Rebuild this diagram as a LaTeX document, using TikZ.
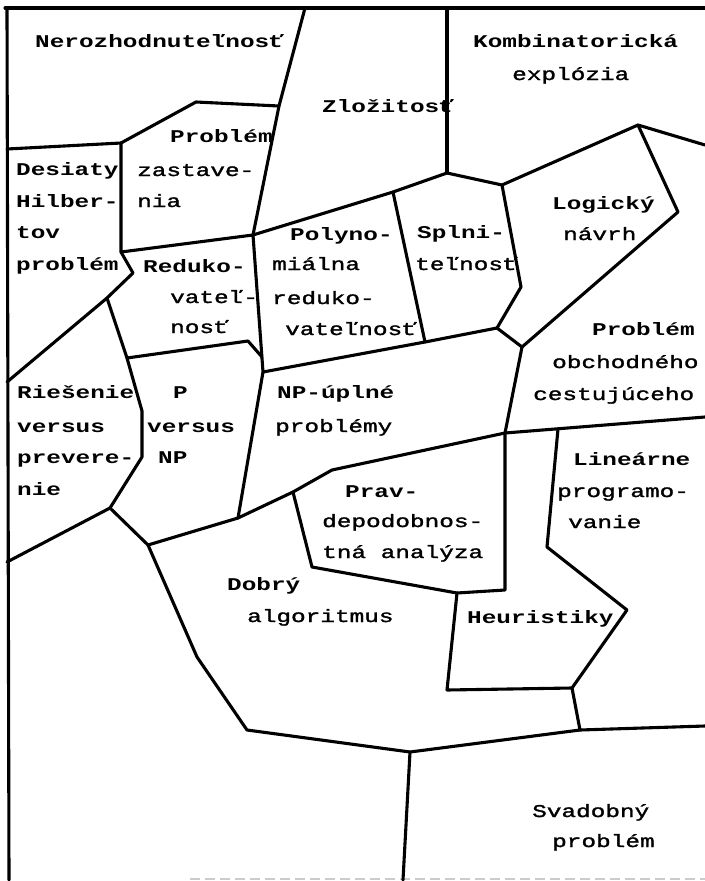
\documentclass[tikz,border=0pt]{standalone}
\usepackage{fontspec}
\setmainfont{Liberation Mono}[FakeStretch=1.36]
\newfontfamily\medfont{Liberation Mono}[FakeStretch=1.36, FakeBold=1.6]
\begin{document}
\begin{tikzpicture}[x=1bp,y=-1bp,
  edge/.style={line width=3.1bp, line join=round, line cap=round},
  lbl/.style={anchor=base west, inner sep=0pt, font=\medfont\fontsize{18}{31}\selectfont},
  blbl/.style={anchor=base west, inner sep=0pt, font=\fontsize{18}{31}\selectfont\bfseries}]
\useasboundingbox (0,0) rectangle (705,881);
% vertices
\coordinate (TL) at (7,8);   \coordinate (TR) at (705,8);
\coordinate (BL) at (9,880);
\coordinate (A) at (305,8);  \coordinate (B) at (279,106);
\coordinate (C) at (253,235); \coordinate (D) at (196,102);
\coordinate (E) at (121,143); \coordinate (Lw1) at (7,149);
\coordinate (F) at (121,252); \coordinate (G) at (133,273);
\coordinate (H) at (107,298); \coordinate (Lw2) at (7,382);
\coordinate (I) at (127,358); \coordinate (J) at (142,411);
\coordinate (K) at (142,457); \coordinate (L) at (110,508);
\coordinate (Lw3) at (7,562); \coordinate (M) at (148,545);
\coordinate (N) at (238,518); \coordinate (O) at (263,372);
\coordinate (P1) at (248,341); \coordinate (P2) at (262,357);
\coordinate (Q) at (393,192); \coordinate (R) at (447,173);
\coordinate (Rt) at (447,8);  \coordinate (S) at (502,185);
\coordinate (U) at (638,125); \coordinate (Rw1) at (705,145);
\coordinate (V) at (678,212); \coordinate (W) at (522,347);
\coordinate (X) at (521,287); \coordinate (Y) at (497,328);
\coordinate (Z) at (425,342); \coordinate (AA) at (505,433);
\coordinate (Rw2) at (705,417); \coordinate (BB) at (332,470);
\coordinate (CC) at (293,492); \coordinate (DD) at (312,567);
\coordinate (EE) at (457,593); \coordinate (FF) at (505,590);
\coordinate (GG) at (447,690); \coordinate (HH) at (572,688);
\coordinate (II) at (627,610); \coordinate (JJ) at (547,547);
\coordinate (KK) at (558,429); \coordinate (LL) at (580,730);
\coordinate (Rw3) at (705,726); \coordinate (MM) at (410,752);
\coordinate (Bm) at (403,880); \coordinate (NN) at (247,730);
\coordinate (OO) at (197,657);
\coordinate (G1) at (190,879); \coordinate (G2) at (705,879);
% frame
\draw[edge] (5,8) -- (TR);
\draw[edge] (TL) -- (BL);
\draw[gray!40, line width=1.2bp, dash pattern=on 10bp off 5bp] (G1) -- (G2);
% boundaries
\draw[edge] (A) -- (B) -- (C) -- (O) -- (N);
\draw[edge] (Lw1) -- (E) -- (D) -- (B);
\draw[edge] (E) -- (F) -- (C);
\draw[edge] (F) -- (G) -- (H) -- (Lw2);
\draw[edge] (H) -- (I) -- (J) -- (K) -- (L) -- (Lw3);
\draw[edge] (L) -- (M) -- (N);
\draw[edge] (I) -- (P1) -- (P2);
\draw[edge] (C) -- (Q) -- (R) -- (S) -- (U) -- (Rw1);
\draw[edge] (Rt) -- (R);
\draw[edge] (U) -- (V) -- (W);
\draw[edge] (Q) -- (Z);
\draw[edge] (S) -- (X) -- (Y) -- (W);
\draw[edge] (O) -- (Z) -- (Y);
\draw[edge] (W) -- (AA) -- (Rw2);
\draw[edge] (AA) -- (BB) -- (CC) -- (N);
\draw[edge] (CC) -- (DD) -- (EE);
\draw[edge] (AA) -- (FF) -- (EE);
\draw[edge] (EE) -- (GG) -- (HH) -- (II) -- (JJ) -- (KK);
\draw[edge] (HH) -- (LL) -- (Rw3);
\draw[edge] (LL) -- (MM) -- (Bm);
\draw[edge] (MM) -- (NN) -- (OO) -- (M);
% labels
\node[blbl] (t1) at (35,47) {Nerozhodnuteľnosť};
\node[blbl] (t2) at (322,112) {Zložitosť};
\node[blbl] (t3) at (473,47) {Kombinatorická};
\node[lbl] (t4) at (512,80) {explózia};
\node[blbl] (t5) at (170,142) {Problém};
\node[lbl] (t6) at (137,176) {zastave-};
\node[lbl] (t7) at (137,207) {nia};
\node[blbl] (t8) at (16,175) {Desiaty};
\node[blbl] (t9) at (16,207) {Hilber-};
\node[blbl] (t10) at (16,238) {tov};
\node[blbl] (t11) at (16,270) {problém};
\node[blbl] (t12) at (143,272) {Reduko-};
\node[lbl] (t13) at (170,303) {vateľ-};
\node[lbl] (t14) at (170,333) {nosť};
\node[blbl] (t15) at (290,240) {Polyno-};
\node[lbl] (t16) at (272,270) {miálna};
\node[lbl] (t17) at (272,304) {reduko-};
\node[lbl] (t18) at (285,335) {vateľnosť};
\node[blbl] (t19) at (417,238) {Splni-};
\node[lbl] (t20) at (415,270) {teľnosť};
\node[blbl] (t21) at (552,209) {Logický};
\node[lbl] (t22) at (563,240) {návrh};
\node[blbl] (t23) at (592,335) {Problém};
\node[lbl] (t24) at (552,368) {obchodného};
\node[lbl] (t25) at (533,400) {cestujúceho};
\node[blbl] (t26) at (17,398) {Riešenie};
\node[blbl] (t27) at (17,432) {versus};
\node[blbl] (t28) at (17,463) {prevere-};
\node[blbl] (t29) at (17,495) {nie};
\node[blbl] (t30) at (173,398) {P};
\node[blbl] (t31) at (147,432) {versus};
\node[blbl] (t32) at (158,463) {NP};
\node[blbl] (t33) at (277,398) {NP-úplné};
\node[lbl] (t34) at (275,432) {problémy};
\node[blbl] (t35) at (345,497) {Prav-};
\node[lbl] (t36) at (322,527) {depodobnos-};
\node[lbl] (t37) at (322,558) {tná analýza};
\node[blbl] (t38) at (227,590) {Dobrý};
\node[lbl] (t39) at (247,622) {algoritmus};
\node[blbl] (t40) at (467,623) {Heuristiky};
\node[blbl] (t41) at (573,465) {Lineárne};
\node[lbl] (t42) at (557,497) {programo-};
\node[lbl] (t43) at (568,528) {vanie};
\node[lbl] (t44) at (532,817) {Svadobný};
\node[lbl] (t45) at (552,847) {problém};
\end{tikzpicture}
\end{document}
